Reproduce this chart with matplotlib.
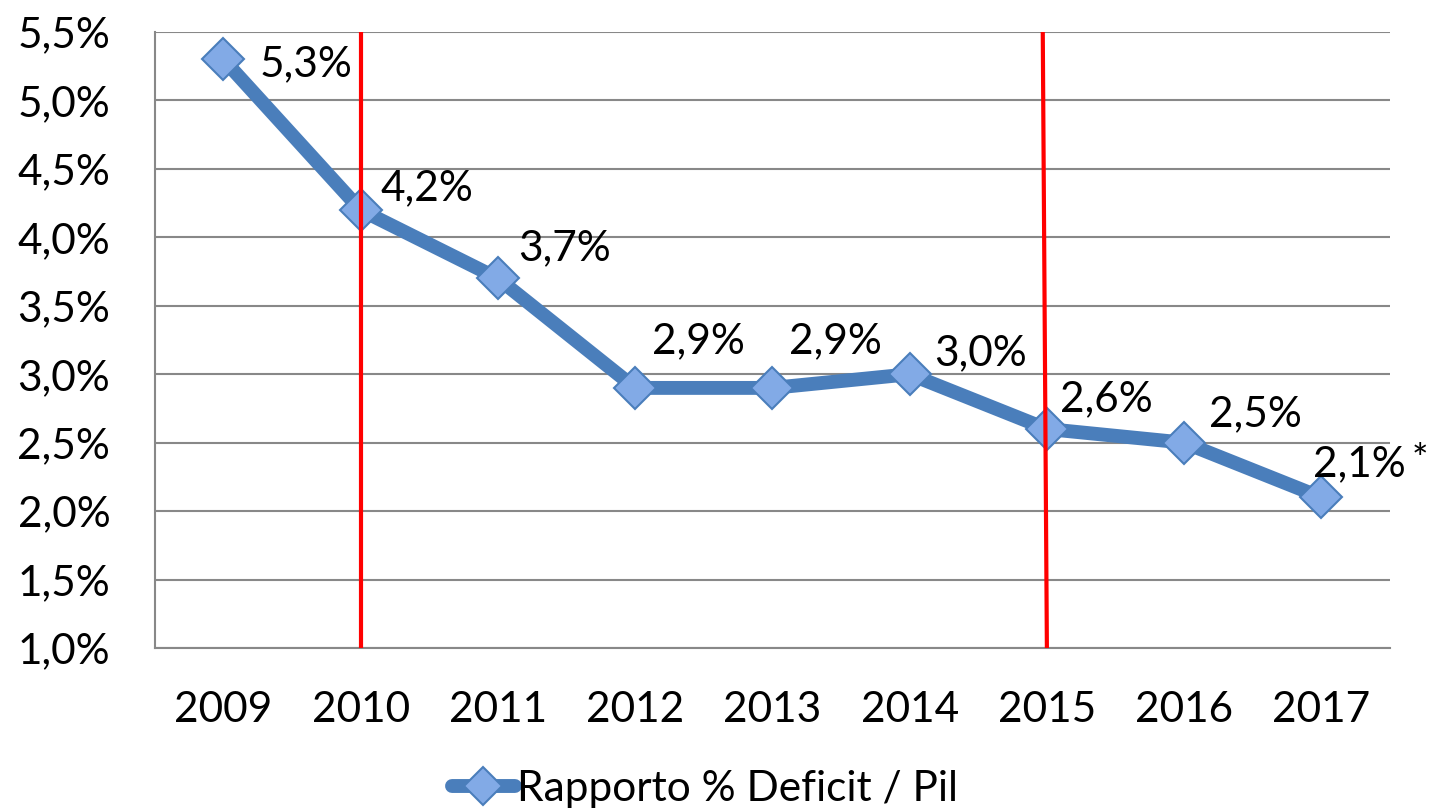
import numpy as np
import matplotlib.pyplot as plt
from matplotlib.ticker import FuncFormatter

# dati
anni = ['2009', '2010', '2011', '2012', '2013', '2014', '2015', '2016', '2017']
deficit = [5.3, 4.2, 3.7, 2.9, 2.9, 3.0, 2.6, 2.5, 2.1]
etichette = ['5,3%', '4,2%', '3,7%', '2,9%', '2,9%', '3,0%', '2,6%', '2,5%', '2,1%']
y_ticks = [1.0, 1.5, 2.0, 2.5, 3.0, 3.5, 4.0, 4.5, 5.0, 5.5]
anni_evidenziati = ['2010', '2015']

plt.rcParams['font.family'] = ['Lato', 'DejaVu Sans']
fs = 30.5

blu = '#4A7EBB'
fig = plt.figure(figsize=(14.33, 8.10), dpi=100)
ax = fig.add_axes([0.108, 0.2, 0.862, 0.7605])

x = np.arange(len(anni))
ax.plot(x, deficit, color=blu, lw=10, solid_capstyle='round', zorder=3,
        marker='D', markersize=21, markerfacecolor='#82AAE6',
        markeredgecolor=blu, markeredgewidth=1.5, label='Rapporto % Deficit / Pil')

# spostamenti etichette (in pixel)
offs = [(36, -5), (20, 22), (20, 30), (17, 47), (17, 47), (25, 21), (13, 30), (25, 28), (-8, 33)]
for i, (v, t) in enumerate(zip(deficit, etichette)):
    dx, dy = offs[i]
    ax.annotate(t, (x[i], v), xytext=(dx * 0.72, dy * 0.72), textcoords='offset points',
                ha='left', va='center', fontsize=fs, zorder=5)
ax.annotate('*', (x[-1], deficit[-1]), xytext=(90 * 0.72, 36 * 0.72), textcoords='offset points',
            ha='left', va='center', fontsize=28, zorder=5)

# linee rosse verticali
for a in anni_evidenziati:
    i = anni.index(a)
    top = i - 0.03 if a == '2015' else i
    ax.plot([top, i], [5.5, 1.0], color='#FF0000', lw=3, zorder=4)

ax.set_xlim(-0.5, len(anni) - 0.5)
ax.set_ylim(1.0, 5.5)
ax.set_yticks(y_ticks)
ax.yaxis.set_major_formatter(FuncFormatter(lambda v, p: f'{v:.1f}%'.replace('.', ',')))
ax.set_xticks(x)
ax.set_xticklabels(anni)
ax.tick_params(axis='both', length=0, labelsize=fs)
ax.tick_params(axis='x', pad=31)
ax.tick_params(axis='y', pad=32)
ax.grid(axis='y', color='#888888', lw=1.5, zorder=0)
for s in ['top', 'right']:
    ax.spines[s].set_visible(False)
for s in ['left', 'bottom']:
    ax.spines[s].set_color('#888888')
    ax.spines[s].set_linewidth(1.5)

leg = fig.legend(loc='lower center', bbox_to_anchor=(0.492, -0.045), frameon=False,
                 fontsize=fs, handlelength=1.5, handletextpad=0.05, markerscale=0.9)

fig.savefig('out.png', dpi=100)
